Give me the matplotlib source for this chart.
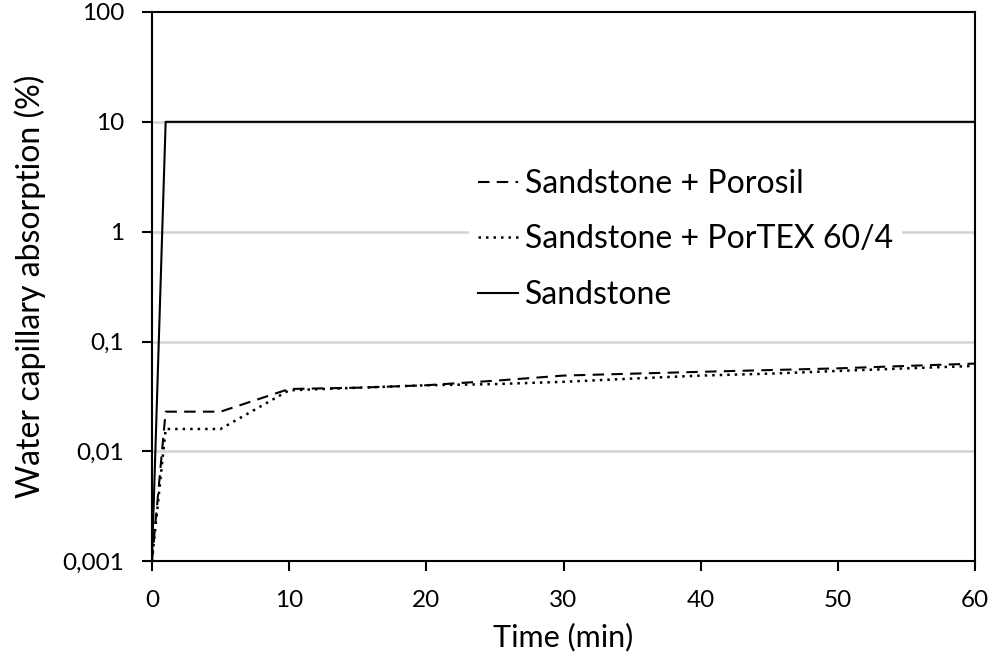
import matplotlib.pyplot as plt
from matplotlib.ticker import FixedLocator, NullLocator

plt.rcParams['font.family'] = ['Lato', 'DejaVu Sans']

# czas pomiaru (min)
t_sand = [0, 1, 5, 10, 20, 30, 40, 50, 60]
sandstone = [0.001, 10, 10, 10, 10, 10, 10, 10, 10]

t_coat = [0, 1, 5, 10, 15, 20, 25, 30, 35, 40, 45, 50, 55, 60]
porosil = [0.001, 0.023, 0.023, 0.037, 0.038, 0.040, 0.044, 0.049, 0.051, 0.053, 0.055, 0.057, 0.060, 0.063]
portex = [0.001, 0.016, 0.016, 0.036, 0.038, 0.040, 0.041, 0.043, 0.046, 0.049, 0.051, 0.054, 0.057, 0.060]

ytick_vals = [0.001, 0.01, 0.1, 1, 10, 100]
ytick_lbls = ['0,001', '0,01', '0,1', '1', '10', '100']

fig = plt.figure(figsize=(9.93, 6.65), dpi=100)
ax = fig.add_axes([0.153, 0.156, 0.829, 0.826])

ax.set_yscale('log')
for v in ytick_vals[1:-1]:
    ax.axhline(v, color='#d4d4d4', linewidth=1.8, zorder=0)

ax.plot(t_coat, porosil, color='black', linestyle=(0, (5.5, 3.5)), linewidth=1.5, label='Sandstone + Porosil')
ax.plot(t_coat, portex, color='black', linestyle=(0, (1, 2)), linewidth=1.8, label='Sandstone + PorTEX 60/4')
ax.plot(t_sand, sandstone, color='black', linestyle='-', linewidth=1.5, label='Sandstone')

ax.set_xlim(0, 60)
ax.set_ylim(0.001, 100)
ax.set_xticks([0, 10, 20, 30, 40, 50, 60])
ax.yaxis.set_major_locator(FixedLocator(ytick_vals))
ax.yaxis.set_minor_locator(NullLocator())
ax.set_yticklabels(ytick_lbls)
ax.tick_params(axis='both', direction='out', length=7, width=1.5, labelsize=17.5)
ax.tick_params(axis='x', pad=14)
ax.tick_params(axis='y', pad=13)

for s in ax.spines.values():
    s.set_linewidth(1.5)

ax.set_xlabel('Time (min)', fontsize=22, labelpad=8)
ax.set_ylabel('Water capillary absorption (%)', fontsize=23, labelpad=12)

leg = ax.legend(loc='upper left', bbox_to_anchor=(0.385, 0.732), fontsize=23, frameon=True,
                facecolor='white', edgecolor='none', framealpha=1, handlelength=1.25,
                handletextpad=0.2, labelspacing=0.8, borderpad=0.3, borderaxespad=0)

plt.savefig('out.png', dpi=100)
plt.close()
